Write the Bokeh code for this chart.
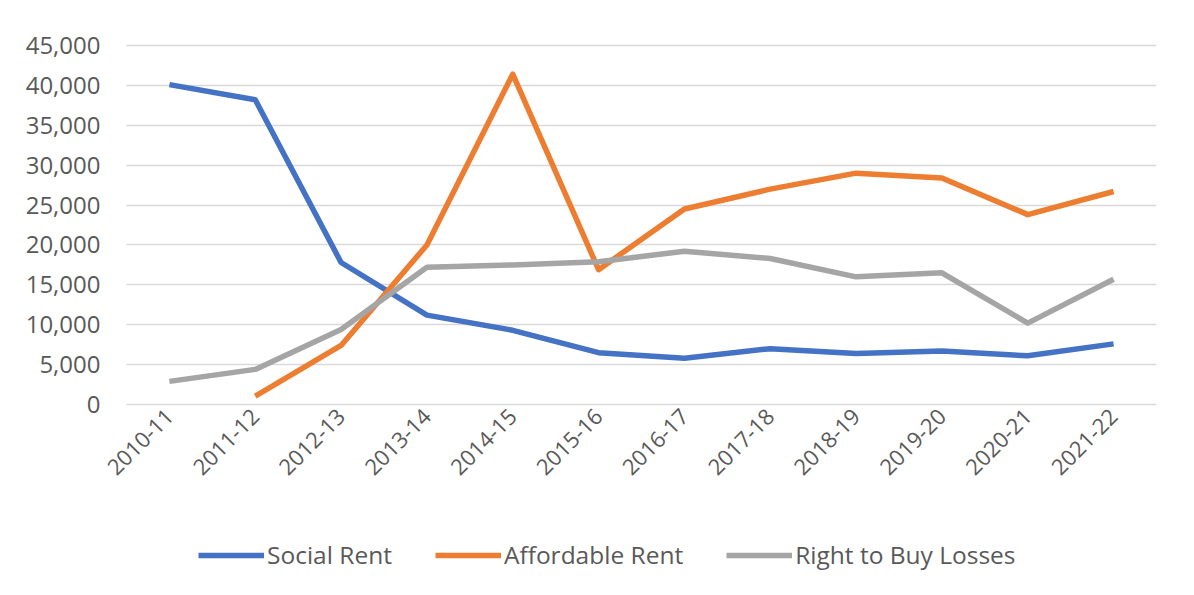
from bokeh.plotting import figure
from bokeh.models import (Range1d, FixedTicker, NumeralTickFormatter,
                          Legend, LegendItem, ColumnDataSource)
from bokeh.embed import file_html
from bokeh.resources import INLINE
import math

years = ["2010-11", "2011-12", "2012-13", "2013-14", "2014-15", "2015-16",
         "2016-17", "2017-18", "2018-19", "2019-20", "2020-21", "2021-22"]
social_rent = [40100, 38200, 17800, 11200, 9300, 6500, 5800, 7000, 6400, 6700, 6100, 7600]
affordable_rent = [float("nan"), 1050, 7400, 20000, 41400, 16900, 24500, 27000, 29000, 28400, 23800, 26700]
right_to_buy = [2900, 4400, 9400, 17200, 17500, 17900, 19200, 18300, 16000, 16500, 10200, 15700]
y_ticks = [0, 5000, 10000, 15000, 20000, 25000, 30000, 35000, 40000, 45000]

FONT = "Open Sans"
TXT = "#595959"

n = len(years)
idx = list(range(n))
# plot area spans category slots -0.5 .. n-0.5; extra room on the left holds the axis labels
x_lo, x_hi = -0.5, n - 0.5
left_room = 126 / ((1156 - 126) / n)
# plot area: 45,000 at 45px from top, 0 at 404px; room above and below for labels/legend
y_top = y_ticks[-1]
units_per_px = y_top / (404 - 45)
y_range = Range1d(-175 * units_per_px, y_top + 45 * units_per_px)

p = figure(width=1178, height=579,
           x_range=Range1d(x_lo - left_room, x_hi),
           y_range=y_range,
           output_backend="svg", toolbar_location=None,
           min_border_left=0, min_border_right=22, min_border_top=0, min_border_bottom=0)
p.outline_line_color = None
p.background_fill_color = "white"
p.border_fill_color = "white"

src = ColumnDataSource(dict(x=idx, s=social_rent, a=affordable_rent, r=right_to_buy))
r1 = p.line("x", "s", source=src, line_color="#4472C4", line_width=5.5, line_join="round")
r2 = p.line("x", "a", source=src, line_color="#ED7D31", line_width=5.5, line_join="round")
r3 = p.line("x", "r", source=src, line_color="#A5A5A5", line_width=5.5, line_join="round")

p.xgrid.grid_line_color = None
p.ygrid.grid_line_color = "#D9D9D9"
p.ygrid.grid_line_width = 1.5
p.ygrid.ticker = FixedTicker(ticks=y_ticks)
p.ygrid.cross_bounds = (x_lo, x_hi)

p.yaxis.ticker = FixedTicker(ticks=y_ticks)
p.yaxis.formatter = NumeralTickFormatter(format="0,0")
p.xaxis.ticker = FixedTicker(ticks=idx)
p.xaxis.major_label_overrides = {i: y for i, y in zip(idx, years)}

for ax in (p.xaxis[0], p.yaxis[0]):
    ax.axis_line_color = None
    ax.major_tick_line_color = None
    ax.minor_tick_line_color = None
    ax.major_tick_out = 0
    ax.major_tick_in = 0
    ax.major_label_text_font = FONT
    ax.major_label_text_color = TXT

p.yaxis.fixed_location = x_lo
p.yaxis.major_label_text_font_size = "24px"
p.yaxis.major_label_standoff = 26
p.xaxis.fixed_location = 0
p.xaxis.major_label_text_font_size = "22px"
p.xaxis.major_label_orientation = math.pi / 4
p.xaxis.major_label_standoff = 8

legend = Legend(items=[LegendItem(label="Social Rent", renderers=[r1]),
                       LegendItem(label="Affordable Rent", renderers=[r2]),
                       LegendItem(label="Right to Buy Losses", renderers=[r3])],
                orientation="horizontal", location=(198, 8),
                glyph_width=66, glyph_height=28, label_height=28, label_standoff=3,
                spacing=43, padding=0, margin=0,
                label_text_font=FONT, label_text_font_size="24.5px", label_text_color=TXT,
                border_line_color=None, background_fill_alpha=0)
p.add_layout(legend, "center")

open("out.html", "w").write(file_html(p, INLINE))
